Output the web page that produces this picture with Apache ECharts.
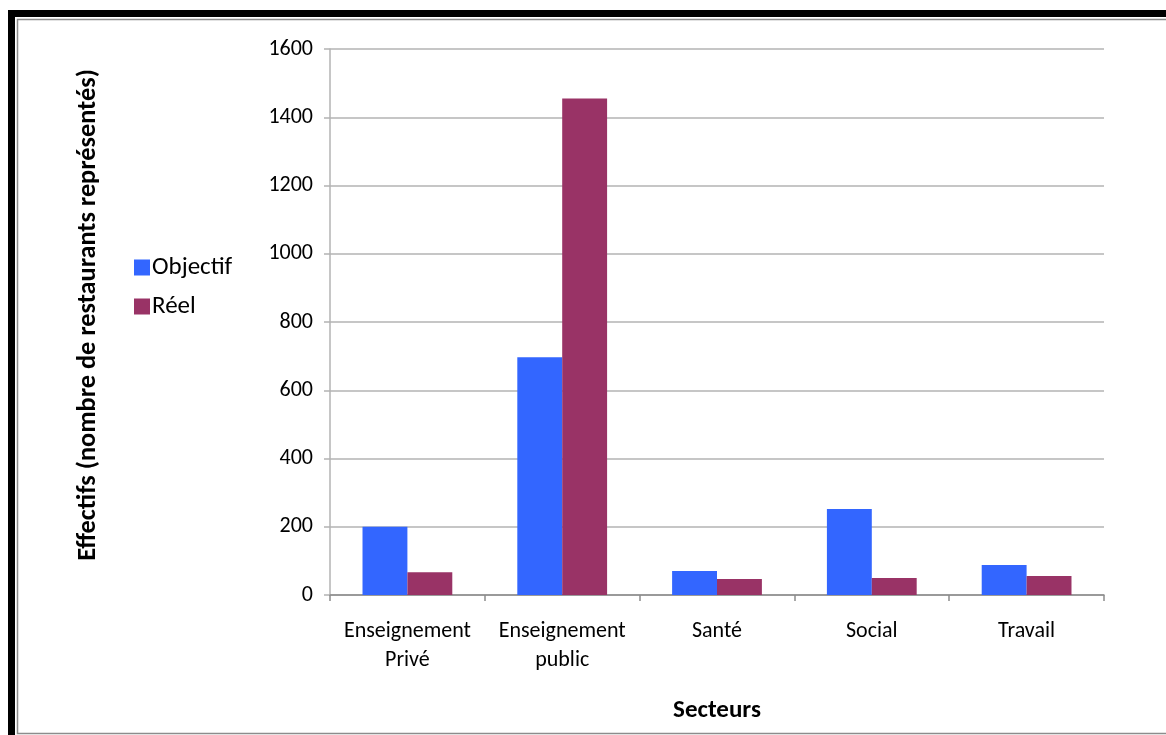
<!DOCTYPE html>
<html>
<head>
<meta charset="utf-8">
<script src="https://cdn.jsdelivr.net/npm/echarts@6/dist/echarts.min.js"></script>
<style>
  html, body { margin: 0; padding: 0; background: #fff; }
  #chart { width: 1166px; height: 735px; }
</style>
</head>
<body>
<div id="chart"></div>
<script>
// Secteurs and counts of restaurants (target vs actual)
const secteurs = ['Enseignement\nPrivé', 'Enseignement\npublic', 'Santé', 'Social', 'Travail'];
const objectif = [200, 697, 70, 252, 88];
const reel = [67, 1455, 47, 50, 56];
const yTicks = { min: 0, max: 1600, interval: 200 };

const FONT = 'Carlito, Lato, "Liberation Sans", sans-serif';

const chart = echarts.init(document.getElementById('chart'), null, { renderer: 'canvas' });

chart.setOption({
  animation: false,
  backgroundColor: '#ffffff',
  textStyle: { fontFamily: FONT, color: '#000' },
  graphic: [
    // frame around the chart
    { type: 'rect', shape: { x: 17.5, y: 19.5, width: 1160, height: 714 },
      style: { fill: 'none', stroke: '#8c8c8c', lineWidth: 1.5 }, silent: true },
    { type: 'rect', shape: { x: 8, y: 10, width: 1160, height: 7 },
      style: { fill: '#000' }, silent: true },
    { type: 'rect', shape: { x: 8, y: 10, width: 7, height: 730 },
      style: { fill: '#000' }, silent: true }
  ],
  grid: { left: 330, right: 62, top: 49, bottom: 140, containLabel: false },
  legend: {
    orient: 'vertical',
    left: 129,
    top: 250,
    itemWidth: 16,
    itemHeight: 16,
    itemGap: 14,
    icon: 'rect',
    textStyle: { fontFamily: FONT, fontSize: 25, color: '#000', padding: [0, 0, 0, -3] },
    data: ['Objectif', 'Réel']
  },
  xAxis: {
    type: 'category',
    data: secteurs,
    name: 'Secteurs',
    nameLocation: 'middle',
    nameGap: 103,
    nameTextStyle: { fontFamily: FONT, fontSize: 25, fontWeight: 'bold', color: '#000' },
    axisLine: { lineStyle: { color: '#8c8c8c', width: 1.5 } },
    axisTick: { show: true, length: 6, lineStyle: { color: '#8c8c8c', width: 1.5 } },
    axisLabel: { interval: 0, fontFamily: FONT, fontSize: 22, color: '#000', lineHeight: 29, margin: 22 }
  },
  yAxis: {
    type: 'value',
    min: yTicks.min,
    max: yTicks.max,
    interval: yTicks.interval,
    name: 'Effectifs (nombre de restaurants représentés)',
    nameLocation: 'middle',
    nameRotate: 90,
    nameGap: 229,
    nameTextStyle: { fontFamily: FONT, fontSize: 26.3, fontWeight: 'bold', color: '#000',
      padding: [0, 0, 0, 14] },
    axisLine: { show: true, lineStyle: { color: '#b3b3b3', width: 1.5 } },
    axisTick: { show: true, length: 6, lineStyle: { color: '#b3b3b3', width: 1.5 } },
    axisLabel: { fontFamily: FONT, fontSize: 22, color: '#000', margin: 17,
      formatter: (v) => String(v) },
    splitLine: { lineStyle: { color: '#b3b3b3', width: 1.5 } }
  },
  series: [
    { name: 'Objectif', type: 'bar', data: objectif, barGap: '0%', barCategoryGap: '42%',
      itemStyle: { color: '#3366ff' } },
    { name: 'Réel', type: 'bar', data: reel, barGap: '0%', barCategoryGap: '42%',
      itemStyle: { color: '#993366' } }
  ]
});
</script>
</body>
</html>
